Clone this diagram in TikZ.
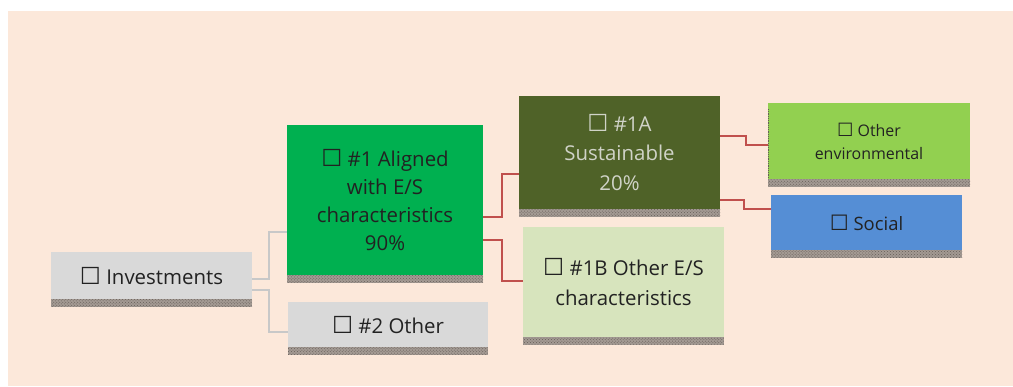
\documentclass[tikz,border=0pt]{standalone}
\usepackage{fontspec}
\setmainfont{Open Sans}
\newfontfamily\symfont{DejaVu Sans}
\usetikzlibrary{patterns}
\definecolor{bg}{HTML}{FCE8DA}
\definecolor{boxgray}{HTML}{D9D9D9}
\definecolor{green1}{HTML}{00B050}
\definecolor{olive}{HTML}{4F6228}
\definecolor{lgreen}{HTML}{92D050}
\definecolor{pgreen}{HTML}{D7E4BD}
\definecolor{blue1}{HTML}{558ED5}
\definecolor{txt}{HTML}{222222}
\definecolor{ltxt}{HTML}{D0D3C8}
\definecolor{redl}{HTML}{C0504D}
\definecolor{grayl}{HTML}{C8C8C8}
\definecolor{hatchbg}{HTML}{A39A93}
\definecolor{hatchfg}{HTML}{675D58}
\newcommand{\bx}{\scalebox{1.15}{\symfont\char"2610}}
\begin{document}
\begin{tikzpicture}[x=1bp,y=-1bp,
  box/.style={anchor=north west,inner sep=0pt,outer sep=0pt,align=center,
    font=\fontsize{20.5}{28}\selectfont,text=txt},
  strip/.style={preaction={fill=hatchbg},pattern=crosshatch dots,pattern color=hatchfg},
  gl/.style={draw=grayl,line width=1.8bp},
  rl/.style={draw=redl,line width=1.8bp}]
\useasboundingbox (0,0) rectangle (1013,386);
\fill[white] (0,0) rectangle (1013,386);
\fill[bg] (8,11) rectangle (1013,386);
% boxes
\node[box,fill=boxgray,minimum width=201bp,minimum height=47bp,text depth=-2bp] (inv) at (51,252) {\bx\ Investments};
\node[box,fill=green1,minimum width=196bp,minimum height=150bp] (al) at (287,125) {\bx\ \#1 Aligned\\with E/S\\characteristics\\90\%};
\node[box,fill=boxgray,minimum width=200bp,minimum height=45bp,text depth=-2bp] (oth) at (288,302) {\bx\ \#2 Other};
\node[box,fill=olive,text=ltxt,minimum width=201bp,minimum height=113bp,font=\fontsize{20.5}{30}\selectfont] (sus) at (519,96) {\bx\ \#1A\\Sustainable\\20\%};
\node[box,fill=pgreen,minimum width=201bp,minimum height=110bp,font=\fontsize{20.5}{30}\selectfont] (ob) at (523,227) {\bx\ \#1B Other E/S\\characteristics};
\node[box,fill=lgreen,minimum width=202bp,minimum height=76bp,font=\fontsize{16}{23}\selectfont] (env) at (768,103) {\bx\ Other\\environmental};
\node[box,fill=blue1,minimum width=191bp,minimum height=55bp,font=\fontsize{18.5}{24}\selectfont,text depth=-2bp] (soc) at (771,195) {\bx\ Social};
% shadow strips
\foreach \n in {inv,al,oth,sus,ob,env,soc}
  \path[strip] (\n.south west) rectangle ([yshift=-7.5bp]\n.south east);
\draw[hatchfg,densely dotted,line width=0.8bp] ([xshift=0.4bp,yshift=-6bp]env.north west) -- ([xshift=0.4bp]env.south west);
% connectors
\draw[gl] (inv.east |- 0,279) -- (269,279) |- (al.west |- 0,232);
\draw[gl] (inv.east |- 0,290) -- (269,290) |- (oth.west |- 0,332);
\draw[rl] (al.east |- 0,217) -- (502,217) |- (sus.west |- 0,174);
\draw[rl] (al.east |- 0,240) -- (502,240) |- (ob.west |- 0,281);
\draw[rl] (sus.east |- 0,136) -- (746,136) |- (env.west |- 0,145);
\draw[rl] (sus.east |- 0,200) -- (744,200) |- (soc.west |- 0,209);
\end{tikzpicture}
\end{document}
